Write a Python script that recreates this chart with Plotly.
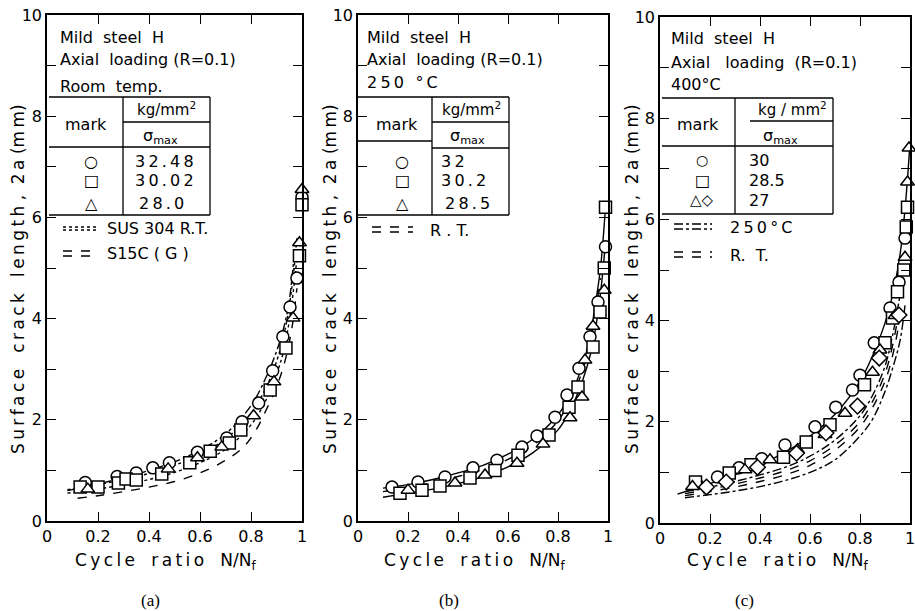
import plotly.graph_objects as go

# ---------------- data ----------------
# panel (a) Room temp.
a_circ_x = [0.15, 0.275, 0.35, 0.415, 0.48, 0.59, 0.705, 0.765, 0.83, 0.885, 0.925, 0.953, 0.98, 1.0]
a_circ_y = [0.76, 0.88, 0.95, 1.05, 1.15, 1.36, 1.64, 1.96, 2.33, 2.97, 3.64, 4.23, 4.8, 6.4]
a_sq_x = [0.13, 0.2, 0.28, 0.31, 0.35, 0.45, 0.56, 0.64, 0.715, 0.76, 0.875, 0.937, 0.99, 1.0]
a_sq_y = [0.67, 0.67, 0.75, 0.83, 0.81, 0.93, 1.15, 1.38, 1.54, 1.80, 2.59, 3.42, 5.24, 6.25]
a_tri_x = [0.16, 0.475, 0.59, 0.685, 0.81, 0.89, 0.965, 0.99, 1.0]
a_tri_y = [0.63, 1.03, 1.25, 1.46, 2.08, 2.75, 4.01, 5.5, 6.55]
a_s15c_hi_x = [0.08, 0.2, 0.3, 0.4, 0.5, 0.6, 0.7, 0.8, 0.86, 0.9, 0.93, 0.95, 0.97]
a_s15c_hi_y = [0.6, 0.73, 0.86, 1.0, 1.17, 1.4, 1.72, 2.28, 2.85, 3.35, 3.85, 4.35, 5.3]
a_sus_hi_x = [0.08, 0.2, 0.3, 0.4, 0.5, 0.6, 0.7, 0.8, 0.86, 0.9, 0.93, 0.96, 0.98]
a_sus_hi_y = [0.62, 0.72, 0.82, 0.94, 1.1, 1.32, 1.62, 2.12, 2.65, 3.15, 3.7, 4.6, 5.6]
a_sus_lo_x = [0.08, 0.2, 0.3, 0.4, 0.5, 0.6, 0.7, 0.8, 0.86, 0.9, 0.93, 0.96, 0.98]
a_sus_lo_y = [0.55, 0.63, 0.72, 0.82, 0.96, 1.15, 1.42, 1.9, 2.4, 2.9, 3.4, 4.3, 5.2]
a_s15c_lo_x = [0.12, 0.2, 0.3, 0.4, 0.5, 0.6, 0.7, 0.77, 0.82, 0.86, 0.9, 0.93, 0.96, 0.98]
a_s15c_lo_y = [0.45, 0.5, 0.58, 0.67, 0.78, 0.95, 1.2, 1.46, 1.8, 2.2, 2.65, 3.1, 3.8, 4.6]

# panel (b) 250 C
b_circ_x = [0.136, 0.24, 0.348, 0.46, 0.556, 0.656, 0.716, 0.788, 0.836, 0.884, 0.928, 0.96, 0.99]
b_circ_y = [0.67, 0.77, 0.87, 1.05, 1.2, 1.46, 1.68, 2.05, 2.49, 3.02, 3.64, 4.33, 5.42]
b_sq_x = [0.168, 0.256, 0.328, 0.448, 0.548, 0.64, 0.764, 0.844, 0.88, 0.94, 0.968, 0.985, 0.99]
b_sq_y = [0.55, 0.61, 0.69, 0.85, 1.0, 1.3, 1.7, 2.25, 2.65, 3.44, 4.13, 5.0, 6.2]
b_tri_x = [0.2, 0.388, 0.508, 0.636, 0.74, 0.848, 0.896, 0.908, 0.94, 0.985]
b_tri_y = [0.61, 0.75, 0.91, 1.14, 1.52, 2.04, 2.45, 3.18, 3.85, 4.56]
b_fit_hi_x = [0.1, 0.2, 0.3, 0.4, 0.5, 0.6, 0.7, 0.8, 0.85, 0.9, 0.93, 0.95, 0.97, 0.99]
b_fit_hi_y = [0.65, 0.72, 0.82, 0.95, 1.1, 1.32, 1.62, 2.1, 2.5, 3.1, 3.7, 4.3, 5.0, 6.2]
b_fit_lo_x = [0.1, 0.2, 0.3, 0.4, 0.5, 0.6, 0.7, 0.8, 0.85, 0.9, 0.93, 0.95, 0.97, 0.99]
b_fit_lo_y = [0.47, 0.55, 0.63, 0.74, 0.88, 1.07, 1.35, 1.8, 2.2, 2.8, 3.3, 3.8, 4.5, 5.5]
b_rt_x = [0.1, 0.2, 0.3, 0.4, 0.5, 0.6, 0.7, 0.8, 0.85, 0.9, 0.93, 0.95, 0.97]
b_rt_y = [0.58, 0.66, 0.76, 0.88, 1.02, 1.22, 1.5, 1.98, 2.4, 3.0, 3.55, 4.1, 4.8]

# panel (c) 400 C
c_circ_x = [0.146, 0.23, 0.316, 0.407, 0.5, 0.62, 0.703, 0.77, 0.8, 0.857, 0.92, 0.956, 0.98]
c_circ_y = [0.79, 0.91, 1.09, 1.27, 1.54, 1.9, 2.29, 2.63, 2.92, 3.56, 4.25, 4.76, 5.63]
c_sq_x = [0.142, 0.277, 0.364, 0.494, 0.585, 0.68, 0.818, 0.9, 0.93, 0.95, 0.975, 0.985, 0.99]
c_sq_y = [0.81, 0.99, 1.15, 1.3, 1.6, 1.94, 2.73, 3.56, 4.05, 4.57, 5.0, 5.85, 6.24]
c_tri_x = [0.13, 0.34, 0.44, 0.55, 0.66, 0.74, 0.85, 0.88, 0.94, 0.98, 0.99, 0.996]
c_tri_y = [0.72, 1.05, 1.25, 1.45, 1.75, 2.17, 2.98, 3.42, 4.1, 5.25, 6.74, 7.41]
c_dia_x = [0.186, 0.265, 0.39, 0.546, 0.664, 0.79, 0.877, 0.956]
c_dia_y = [0.71, 0.81, 1.1, 1.38, 1.78, 2.31, 3.26, 4.11]
c_fit_x = [0.07, 0.2, 0.3, 0.4, 0.5, 0.6, 0.7, 0.8, 0.85, 0.9, 0.93, 0.96, 0.98, 1.0]
c_fit_y = [0.57, 0.78, 0.95, 1.15, 1.4, 1.72, 2.15, 2.8, 3.3, 3.95, 4.5, 5.3, 6.2, 7.5]
c_250_hi_x = [0.1, 0.2, 0.3, 0.4, 0.5, 0.6, 0.7, 0.8, 0.85, 0.9, 0.93, 0.96]
c_250_hi_y = [0.62, 0.71, 0.82, 0.95, 1.1, 1.32, 1.64, 2.12, 2.52, 3.1, 3.7, 4.5]
c_rt_hi_x = [0.1, 0.2, 0.3, 0.4, 0.5, 0.6, 0.7, 0.8, 0.85, 0.9, 0.93, 0.96]
c_rt_hi_y = [0.58, 0.67, 0.77, 0.89, 1.03, 1.23, 1.54, 2.0, 2.4, 2.95, 3.5, 4.3]
c_rt_lo_x = [0.1, 0.2, 0.3, 0.4, 0.5, 0.6, 0.7, 0.8, 0.85, 0.9, 0.93, 0.96]
c_rt_lo_y = [0.54, 0.62, 0.71, 0.82, 0.95, 1.14, 1.44, 1.9, 2.28, 2.8, 3.3, 4.05]
c_250_lo_x = [0.1, 0.2, 0.3, 0.4, 0.5, 0.6, 0.7, 0.8, 0.85, 0.9, 0.93, 0.96, 0.98]
c_250_lo_y = [0.5, 0.56, 0.63, 0.72, 0.84, 1.0, 1.25, 1.72, 2.05, 2.6, 3.05, 3.6, 4.3]

x_tickvals = [0, 0.2, 0.4, 0.6, 0.8, 1.0]
x_ticktext = ["0", "0.2", "0.4", "0.6", "0.8", "1"]
y_tickvals = [0, 2, 4, 6, 8, 10]
y_ticktext = ["0", "2", "4", "6", "8", "10"]

# ---------------- figure ----------------
W, H = 915, 611
FONT = "DejaVu Sans"
K = "black"


def px(x):
    return x / W


def py(y):
    return 1 - y / H


def sp(s):
    return "\u2009".join(s)


panels = [
    dict(x0=47, x1=302, yb=521, yt=15),
    dict(x0=358, x1=608, yb=521, yt=15),
    dict(x0=660, x1=910, yb=523, yt=17),
]

fig = go.Figure()


def line(i, xs, ys, dash):
    fig.add_trace(go.Scatter(x=xs, y=ys, mode="lines", xaxis=f"x{i}", yaxis=f"y{i}",
                             line=dict(color=K, width=1.4, dash=dash, shape="spline"),
                             cliponaxis=False, hoverinfo="skip"))


def marks(i, xs, ys, sym):
    fig.add_trace(go.Scatter(x=xs, y=ys, mode="markers", xaxis=f"x{i}", yaxis=f"y{i}",
                             marker=dict(symbol=sym, size=12, color="white",
                                         line=dict(color=K, width=1.5)),
                             cliponaxis=False))


# (a)
line(1, a_s15c_hi_x, a_s15c_hi_y, "dashdot")
line(1, a_sus_hi_x, a_sus_hi_y, "dot")
line(1, a_sus_lo_x, a_sus_lo_y, "dot")
line(1, a_s15c_lo_x, a_s15c_lo_y, "dash")
marks(1, a_circ_x, a_circ_y, "circle")
marks(1, a_sq_x, a_sq_y, "square")
marks(1, a_tri_x, a_tri_y, "triangle-up")
# (b)
line(2, b_fit_hi_x, b_fit_hi_y, "solid")
line(2, b_rt_x, b_rt_y, "dash")
line(2, b_fit_lo_x, b_fit_lo_y, "solid")
marks(2, b_circ_x, b_circ_y, "circle")
marks(2, b_sq_x, b_sq_y, "square")
marks(2, b_tri_x, b_tri_y, "triangle-up")
# (c)
line(3, c_fit_x, c_fit_y, "solid")
line(3, c_250_hi_x, c_250_hi_y, "dashdot")
line(3, c_rt_hi_x, c_rt_hi_y, "dash")
line(3, c_rt_lo_x, c_rt_lo_y, "dash")
line(3, c_250_lo_x, c_250_lo_y, "dashdot")
marks(3, c_circ_x, c_circ_y, "circle")
marks(3, c_sq_x, c_sq_y, "square")
marks(3, c_tri_x, c_tri_y, "triangle-up")
marks(3, c_dia_x, c_dia_y, "diamond")

layout = dict(width=W, height=H, margin=dict(l=0, r=0, t=0, b=0),
              paper_bgcolor="white", plot_bgcolor="white", showlegend=False,
              font=dict(family=FONT, color=K, size=16))
for i, p in enumerate(panels, start=1):
    sfx = "" if i == 1 else str(i)
    layout["xaxis" + sfx] = dict(domain=[px(p["x0"]), px(p["x1"])], range=[0, 1],
                                 anchor="y" + sfx if i > 1 else "y",
                                 tickvals=x_tickvals, ticktext=x_ticktext,
                                 ticks="inside", ticklen=9, tickwidth=1.3, tickcolor=K,
                                 showline=True, linecolor=K, linewidth=1.6, mirror="ticks",
                                 showgrid=False, zeroline=False, automargin=False,
                                 ticklabeloverflow="allow",
                                 tickfont=dict(size=16, family=FONT, color=K))
    layout["yaxis" + sfx] = dict(domain=[py(p["yb"]), py(p["yt"])], range=[0, 10],
                                 anchor="x" + sfx if i > 1 else "x",
                                 tickvals=y_tickvals, ticktext=y_ticktext,
                                 ticks="inside", ticklen=9, tickwidth=1.3, tickcolor=K,
                                 minor=dict(dtick=1, ticks="inside", ticklen=9,
                                            tickwidth=1.3, tickcolor=K, showgrid=False),
                                 showline=True, linecolor=K, linewidth=1.6, mirror="ticks",
                                 showgrid=False, zeroline=False, automargin=False,
                                 tickfont=dict(size=16, family=FONT, color=K))

shapes = []
ann = []


def seg(x0, y0, x1, y1, dash="solid", w=1.3):
    shapes.append(dict(type="line", xref="paper", yref="paper", x0=px(x0), y0=py(y0),
                       x1=px(x1), y1=py(y1), line=dict(color=K, width=w, dash=dash)))


def txt(x, y, s, anchor="left", size=16, fam=FONT, angle=0):
    ann.append(dict(xref="paper", yref="paper", x=px(x), y=py(y), text=s, showarrow=False,
                    xanchor=anchor, yanchor="middle", textangle=angle,
                    font=dict(family=fam, size=size, color=K)))


# axis titles and panel labels
ytitle = sp("Surface") + "   " + sp("crack") + "   " + sp("length") + " ,  " + sp("2a") + " (" + sp("mm") + ")"
xtitle = sp("Cycle") + "   " + sp("ratio") + "   N/N<sub>f</sub>"
ytitle_x = [18, 330, 632]
xtitle_x = [165, 474, 777]
plabel_x = [150, 449, 744]
plabels = ["(a)", "(b)", "(c)"]
for i in range(3):
    txt(ytitle_x[i], 279, ytitle, anchor="center", size=17, angle=-90)
    txt(xtitle_x[i], 561, xtitle, anchor="center", size=17)
    txt(plabel_x[i], 600, plabels[i], anchor="center", size=17, fam="Liberation Serif")

# panel (a) legend table
txt(58, 37, "Mild  steel  H")
txt(58, 60, "Axial  loading (R=0.1)")
txt(58, 86, "Room  temp.")
seg(49, 97, 210, 97); seg(210, 97, 210, 215); seg(49, 215, 210, 215)
seg(123, 97, 123, 215); seg(123, 122, 210, 122); seg(49, 147, 210, 147)
txt(86, 124, "mark", anchor="center")
txt(166, 109, "kg/mm<sup>2</sup>", anchor="center", size=15)
txt(160, 137, "σ<sub>max</sub>", anchor="center", size=16)
txt(91, 162, "○", anchor="center", size=16)
txt(91, 180, "□", anchor="center", size=16)
txt(91, 203, "△", anchor="center", size=16)
txt(133, 162, sp("32.48"))
txt(133, 180, sp("30.02"))
txt(137, 203, sp("28.0"))
seg(63, 230, 97, 230, dash="dot")
seg(63, 227, 97, 227, dash="dot")
txt(105, 229, "SUS 304 R.T.")
seg(63, 251, 97, 251, dash="dash")
seg(63, 256, 97, 256, dash="dash")
txt(105, 254, "S15C ( G )")

# panel (b) legend table
txt(365, 37, "Mild  steel  H")
txt(365, 60, "Axial  loading (R=0.1)")
txt(365, 82, sp("250 °C"))
seg(358, 97, 509, 97); seg(509, 97, 509, 215); seg(358, 215, 509, 215)
seg(432, 97, 432, 215); seg(432, 122, 509, 122); seg(358, 141, 432, 141); seg(432, 148, 509, 148)
txt(397, 124, "mark", anchor="center")
txt(472, 109, "kg/mm<sup>2</sup>", anchor="center", size=15)
txt(468, 136, "σ<sub>max</sub>", anchor="center", size=16)
txt(402, 162, "○", anchor="center", size=16)
txt(402, 180, "□", anchor="center", size=16)
txt(402, 203, "△", anchor="center", size=16)
txt(439, 162, sp("32"))
txt(439, 180, sp("30.2"))
txt(443, 203, sp("28.5"))
seg(372, 227, 413, 227, dash="dash")
seg(372, 232, 413, 232, dash="dash")
txt(428, 230, "R . T.")

# panel (c) legend table
txt(669, 38, "Mild  steel  H")
txt(669, 62, "Axial   loading  (R=0.1)")
txt(669, 85, "400°C")
seg(662, 98, 833, 98); seg(833, 98, 833, 214); seg(662, 214, 833, 214)
seg(735, 98, 735, 214); seg(750, 121, 833, 121); seg(662, 146, 833, 146)
txt(698, 124, "mark", anchor="center")
txt(792, 109, "kg / mm<sup>2</sup>", anchor="center", size=15)
txt(780, 136, "σ<sub>max</sub>", anchor="center", size=16)
txt(702, 160, "○", anchor="center", size=14)
txt(702, 180, "□", anchor="center", size=16)
txt(702, 200, "△◇", anchor="center", size=15)
txt(747, 160, "30")
txt(747, 180, "28.5")
txt(747, 200, "27")
seg(674, 224, 712, 224, dash="dashdot")
seg(674, 229, 712, 229, dash="dashdot")
txt(728, 227, sp("250°C"))
seg(674, 252, 712, 252, dash="dash")
seg(674, 257, 712, 257, dash="dash")
txt(728, 255, "R.  T.")

layout["shapes"] = shapes
layout["annotations"] = ann
fig.update_layout(**layout)
fig.write_html("out.html", config={"displayModeBar": False},
               post_script="document.body.style.margin='0px';")
